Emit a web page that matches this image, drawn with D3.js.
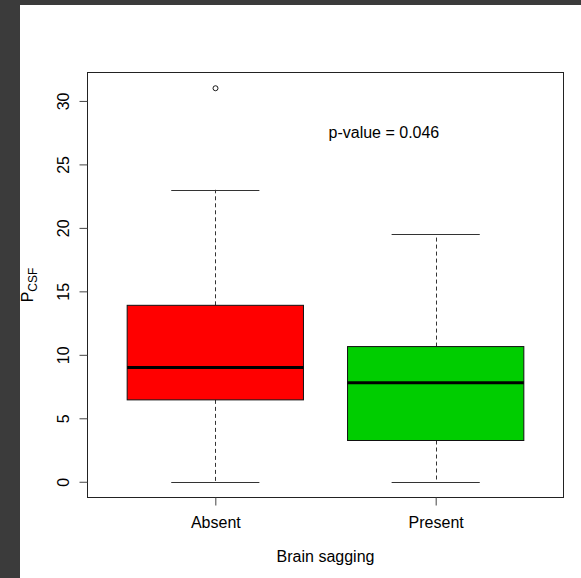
<!DOCTYPE html>
<html>
<head>
<meta charset="utf-8">
<script src="https://cdn.jsdelivr.net/npm/d3@7"></script>
<style>
  html, body { margin: 0; padding: 0; background: #3b3b3b; }
  svg { display: block; }
  text { font-family: "Liberation Sans", Arial, sans-serif; fill: #000; }
</style>
</head>
<body>
<svg id="chart" width="581" height="578"></svg>
<script>
// ---- data ----
const categories = ["Absent", "Present"];
const whiskerLow = [0, 0];
const q1 = [6.45, 3.25];
const median = [9.0, 7.8];
const q3 = [13.9, 10.65];
const whiskerHigh = [23, 19.5];
const outliers = [[31], []];
const boxColors = ["#FF0000", "#00CD00"];
const yTicks = [0, 5, 10, 15, 20, 25, 30];
const xTitle = "Brain sagging";
const yTitleMain = "P";
const yTitleSub = "CSF";
const annotation = "p-value = 0.046";

// ---- layout ----
const W = 581, H = 578;
const plot = { left: 87.5, right: 563.5, top: 72.5, bottom: 497.5 };

const svg = d3.select("#chart");
// dark frame + white page
svg.append("rect").attr("x", 0).attr("y", 0).attr("width", W).attr("height", H).attr("fill", "#3b3b3b");
svg.append("rect").attr("x", 20).attr("y", 5).attr("width", W - 20).attr("height", H - 5).attr("fill", "#ffffff");

// scales (R style: 4% expansion)
const allVals = whiskerLow.concat(whiskerHigh, outliers.flat());
const yMin = d3.min(allVals), yMax = d3.max(allVals);
const yPad = (yMax - yMin) * 0.04;
const y = d3.scaleLinear().domain([yMin - yPad, yMax + yPad]).range([plot.bottom, plot.top]);
const n = categories.length;
const xPad = n * 0.04;
const x = d3.scaleLinear().domain([0.5 - xPad, n + 0.5 + xPad]).range([plot.left, plot.right]);

const boxHalf = 0.4, capHalf = 0.2;

const g = svg.append("g");

categories.forEach((c, i) => {
  const pos = i + 1;
  const cx = Math.round(x(pos)) + 0.5;
  // whiskers (dashed)
  g.append("line").attr("x1", cx).attr("x2", cx).attr("y1", y(q3[i])).attr("y2", y(whiskerHigh[i]))
    .attr("stroke", "#333").attr("stroke-width", 1).attr("stroke-dasharray", "4,3");
  g.append("line").attr("x1", cx).attr("x2", cx).attr("y1", y(q1[i])).attr("y2", y(whiskerLow[i]))
    .attr("stroke", "#333").attr("stroke-width", 1).attr("stroke-dasharray", "4,3");
  // caps
  [whiskerHigh[i], whiskerLow[i]].forEach(v => {
    g.append("line").attr("x1", x(pos - capHalf)).attr("x2", x(pos + capHalf))
      .attr("y1", Math.round(y(v)) + 0.5).attr("y2", Math.round(y(v)) + 0.5)
      .attr("stroke", "#333").attr("stroke-width", 1);
  });
  // box
  g.append("rect").attr("x", x(pos - boxHalf)).attr("y", y(q3[i]))
    .attr("width", x(pos + boxHalf) - x(pos - boxHalf)).attr("height", y(q1[i]) - y(q3[i]))
    .attr("fill", boxColors[i]).attr("stroke", "#111").attr("stroke-width", 1);
  // median
  g.append("line").attr("x1", x(pos - boxHalf)).attr("x2", x(pos + boxHalf))
    .attr("y1", y(median[i])).attr("y2", y(median[i]))
    .attr("stroke", "#000").attr("stroke-width", 3);
  // outliers
  outliers[i].forEach(v => {
    g.append("circle").attr("cx", cx).attr("cy", y(v)).attr("r", 2.5)
      .attr("fill", "none").attr("stroke", "#000").attr("stroke-width", 0.9);
  });
});

// plot frame
svg.append("rect").attr("x", plot.left).attr("y", plot.top)
  .attr("width", plot.right - plot.left).attr("height", plot.bottom - plot.top)
  .attr("fill", "none").attr("stroke", "#222").attr("stroke-width", 1);

// y axis
const yAxis = svg.append("g").attr("transform", `translate(${plot.left},0)`)
  .call(d3.axisLeft(y).tickValues(yTicks).tickSize(8).tickFormat(d3.format("d")));
yAxis.select(".domain").remove();
yAxis.selectAll(".tick line").attr("stroke", "#444");
yAxis.selectAll(".tick text")
  .attr("x", null).attr("dy", null)
  .attr("transform", "translate(-19,0) rotate(-90)")
  .attr("text-anchor", "middle")
  .style("font-family", "'Liberation Sans', Arial, sans-serif")
  .style("font-size", "16px").attr("fill", "#000");

// x axis
const xAxis = svg.append("g").attr("transform", `translate(0,${plot.bottom})`)
  .call(d3.axisBottom(x).tickValues(categories.map((c, i) => i + 1)).tickSize(8)
    .tickFormat((d) => categories[d - 1]));
xAxis.select(".domain").remove();
xAxis.selectAll(".tick line").attr("stroke", "#444");
xAxis.selectAll(".tick text")
  .attr("y", 30.8).attr("dy", null)
  .style("font-family", "'Liberation Sans', Arial, sans-serif")
  .style("font-size", "16px").attr("fill", "#000");

// x title
svg.append("text").attr("x", (plot.left + plot.right) / 2).attr("y", 561.5)
  .attr("text-anchor", "middle").style("font-size", "16px").text(xTitle);

// y title
const yt = svg.append("text")
  .attr("transform", `translate(32.5,${(plot.top + plot.bottom) / 2}) rotate(-90)`)
  .attr("text-anchor", "middle").style("font-size", "16px");
yt.append("tspan").text(yTitleMain);
yt.append("tspan").attr("dy", 4.4).style("font-size", "12px").text(yTitleSub);

// annotation
svg.append("text").attr("x", x(1.765)).attr("y", y(27.1))
  .attr("text-anchor", "middle").style("font-size", "16px").text(annotation);
</script>
</body>
</html>
